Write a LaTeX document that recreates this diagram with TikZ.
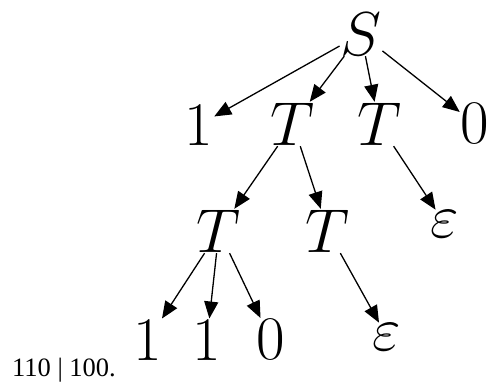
\documentclass[tikz,border=0pt]{standalone}
\RequirePackage{fix-cm}
\usepackage{fontspec}
\newfontfamily\timesf{Liberation Serif}
\usetikzlibrary{arrows.meta}
\tikzset{
  sym/.style={inner sep=1pt, outer sep=0pt, font=\fontsize{62}{70}\selectfont},
  arr/.style={-{Triangle[length=17pt,width=14pt]}, line width=1.3pt},
  note/.style={inner sep=0pt, anchor=base west, font=\timesf\fontsize{26.5}{30}\selectfont}
}
\begin{document}
\begin{tikzpicture}[x=1pt,y=-1pt]
\useasboundingbox (0,0) rectangle (489,382);
\node[sym] (S)  at (361,34)  {$S$};
\node[sym] (o1) at (199,125) {1};
\node[sym] (T1) at (293,124) {$T$};
\node[sym] (T2) at (379,124) {$T$};
\node[sym] (z0) at (475,124) {0};
\node[sym] (T3) at (219,231) {$T$};
\node[sym] (T4) at (328,231) {$T$};
\node[sym] (e1) at (445,224) {$\varepsilon$};
\node[sym] (b1) at (148,340) {1};
\node[sym] (b2) at (207,340) {1};
\node[sym] (b3) at (271,340) {0};
\node[sym] (e2) at (387,337) {$\varepsilon$};
\node[note] (txt) at (12,376) {110 | 100.};
\draw[arr] (S) -- (o1);
\draw[arr] (S) -- (T1);
\draw[arr] (S) -- (T2);
\draw[arr] (S) -- (z0);
\draw[arr] (T1) -- (T3);
\draw[arr] (T1) -- (T4);
\draw[arr] (T2) -- (e1);
\draw[arr] (T3) -- (b1);
\draw[arr] (T3) -- (b2);
\draw[arr] (T3) -- (b3);
\draw[arr] (T4) -- (e2);
\end{tikzpicture}
\end{document}
